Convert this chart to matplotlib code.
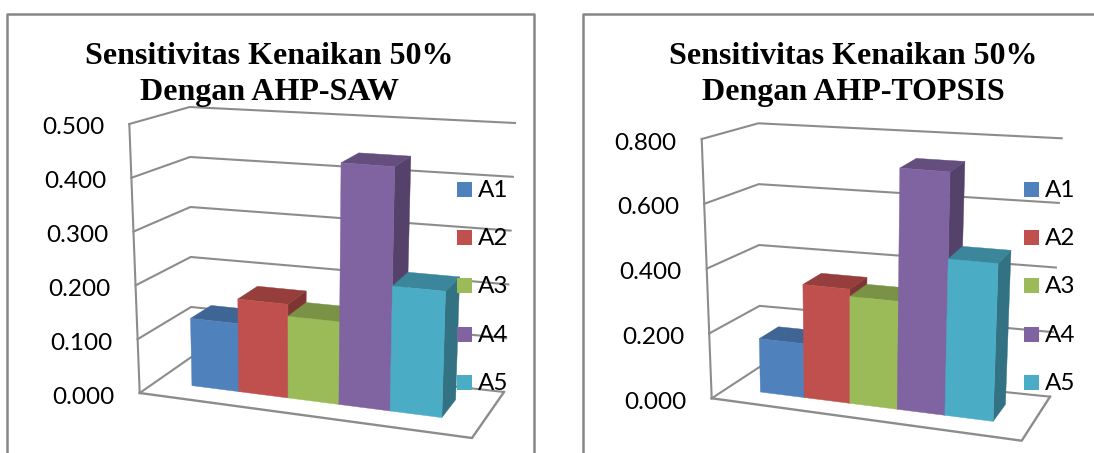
import matplotlib
matplotlib.use("Agg")
import matplotlib.pyplot as plt
from matplotlib.patches import Polygon, Rectangle
from matplotlib.colors import to_rgb
import numpy as np

# Data
categories = ["A1", "A2", "A3", "A4", "A5"]
saw_values = [0.127, 0.173, 0.151, 0.442, 0.226]
topsis_values = [0.167, 0.351, 0.329, 0.736, 0.473]
saw_ticks = [0.0, 0.1, 0.2, 0.3, 0.4, 0.5]
topsis_ticks = [0.0, 0.2, 0.4, 0.6, 0.8]
saw_title = ["Sensitivitas Kenaikan 50%", "Dengan AHP-SAW"]
topsis_title = ["Sensitivitas Kenaikan 50%", "Dengan AHP-TOPSIS"]

colors = ["#4F81BD", "#C0504D", "#9BBB59", "#8064A2", "#4BACC6"]
line_col = "#8C8C8C"

# Layout (pixels). corners: front-left, front-right, back-left, back-right, each (bottom, top)
saw_box = {"fl": ((139.7, 393), (129.3, 124)), "fr": ((472, 438), (482, 150)),
           "bl": ((191.4, 357), (189.7, 107)), "br": ((504, 392), (515, 123))}
topsis_box = {"fl": ((711.7, 398.3), (701.7, 139)), "fr": ((1021.7, 440.7), (1032, 167)),
              "bl": ((760, 366.7), (758.3, 123.3)), "br": ((1050, 396.7), (1061.7, 138.3))}
bar_edges = [0.108, 0.252, 0.403, 0.559, 0.716, 0.875]
bar_front, bar_back = 0.33, 0.73


def project(box, u, d, frac):
    # trilinear position inside the chart box
    corners = {k: np.array(v[0]) * (1 - frac) + np.array(v[1]) * frac for k, v in box.items()}
    front = corners["fl"] * (1 - u) + corners["fr"] * u
    back = corners["bl"] * (1 - u) + corners["br"] * u
    return tuple(front * (1 - d) + back * d)


def darker(col, f):
    return tuple(c * f for c in to_rgb(col))


def draw_chart(ax, box, values, ticks, title, title_x, legend_x, label_dy):
    vmax = ticks[-1]
    # walls, floor and gridlines
    for t in ticks:
        f = t / vmax
        pts = [project(box, 0, 0, f), project(box, 0, 1, f), project(box, 1, 1, f)]
        ax.plot(*zip(*pts), color=line_col, lw=1.5, zorder=1)
        x, y = project(box, 0, 0, f)
        ax.text(x - 25, y + label_dy, "%.3f" % t, ha="right", va="center",
                fontsize=17.5, family="Lato", color="black", zorder=6)
    axis = [project(box, 0, 0, 0), project(box, 0, 0, 1)]
    ax.plot(*zip(*axis), color=line_col, lw=1.5, zorder=1)
    floor = [project(box, 0, 0, 0), project(box, 1, 0, 0), project(box, 1, 1, 0)]
    ax.plot(*zip(*floor), color=line_col, lw=1.7, zorder=1)

    # bars, left to right so the nearer faces overlap
    for i, val in enumerate(values):
        u0, u1 = bar_edges[i], bar_edges[i + 1]
        f = val / vmax
        col = colors[i]
        z = 2 + i * 0.1
        side = [project(box, u1, bar_front, 0), project(box, u1, bar_back, 0),
                project(box, u1, bar_back, f), project(box, u1, bar_front, f)]
        top = [project(box, u0, bar_front, f), project(box, u1, bar_front, f),
               project(box, u1, bar_back, f), project(box, u0, bar_back, f)]
        face = [project(box, u0, bar_front, 0), project(box, u1, bar_front, 0),
                project(box, u1, bar_front, f), project(box, u0, bar_front, f)]
        for poly, shade in ((side, 0.66), (top, 0.78), (face, 1.0)):
            c = darker(col, shade)
            ax.add_patch(Polygon(poly, closed=True, facecolor=c, edgecolor=c, lw=0.3, zorder=z))

    # legend
    for name, col, y in zip(categories, colors, legend_rows):
        ax.add_patch(Rectangle((legend_x, y - 7.5), 15, 15, facecolor=col, edgecolor="none", zorder=5))
        ax.text(legend_x + 21, y + 1.5, name, ha="left", va="center", fontsize=17.5,
                family="Lato", color="black", zorder=6)

    # title
    for line, y in zip(title, title_rows):
        ax.text(title_x, y, line, ha="center", va="baseline", fontsize=title_size,
                family="Liberation Serif", weight="bold", color="black", zorder=6)


legend_rows = [189, 237, 285, 334, 382]
title_rows = [64, 100]
title_size = 23

fig = plt.figure(figsize=(10.94, 4.53), dpi=100)
ax = fig.add_axes([0, 0, 1, 1])
ax.set_xlim(0, 1094)
ax.set_ylim(453, 0)
ax.axis("off")

# chart frames, both run off the picture
ax.plot([7, 7, 534, 534], [460, 13.5, 13.5, 460], color="#868686", lw=1.8, zorder=0)
ax.plot([583, 583, 1100], [460, 13.5, 13.5], color="#868686", lw=1.8, zorder=0)

draw_chart(ax, saw_box, saw_values, saw_ticks, saw_title, 269, 456.5, 4)
draw_chart(ax, topsis_box, topsis_values, topsis_ticks, topsis_title, 853, 1024, 4)

fig.savefig("out.png", dpi=100)
